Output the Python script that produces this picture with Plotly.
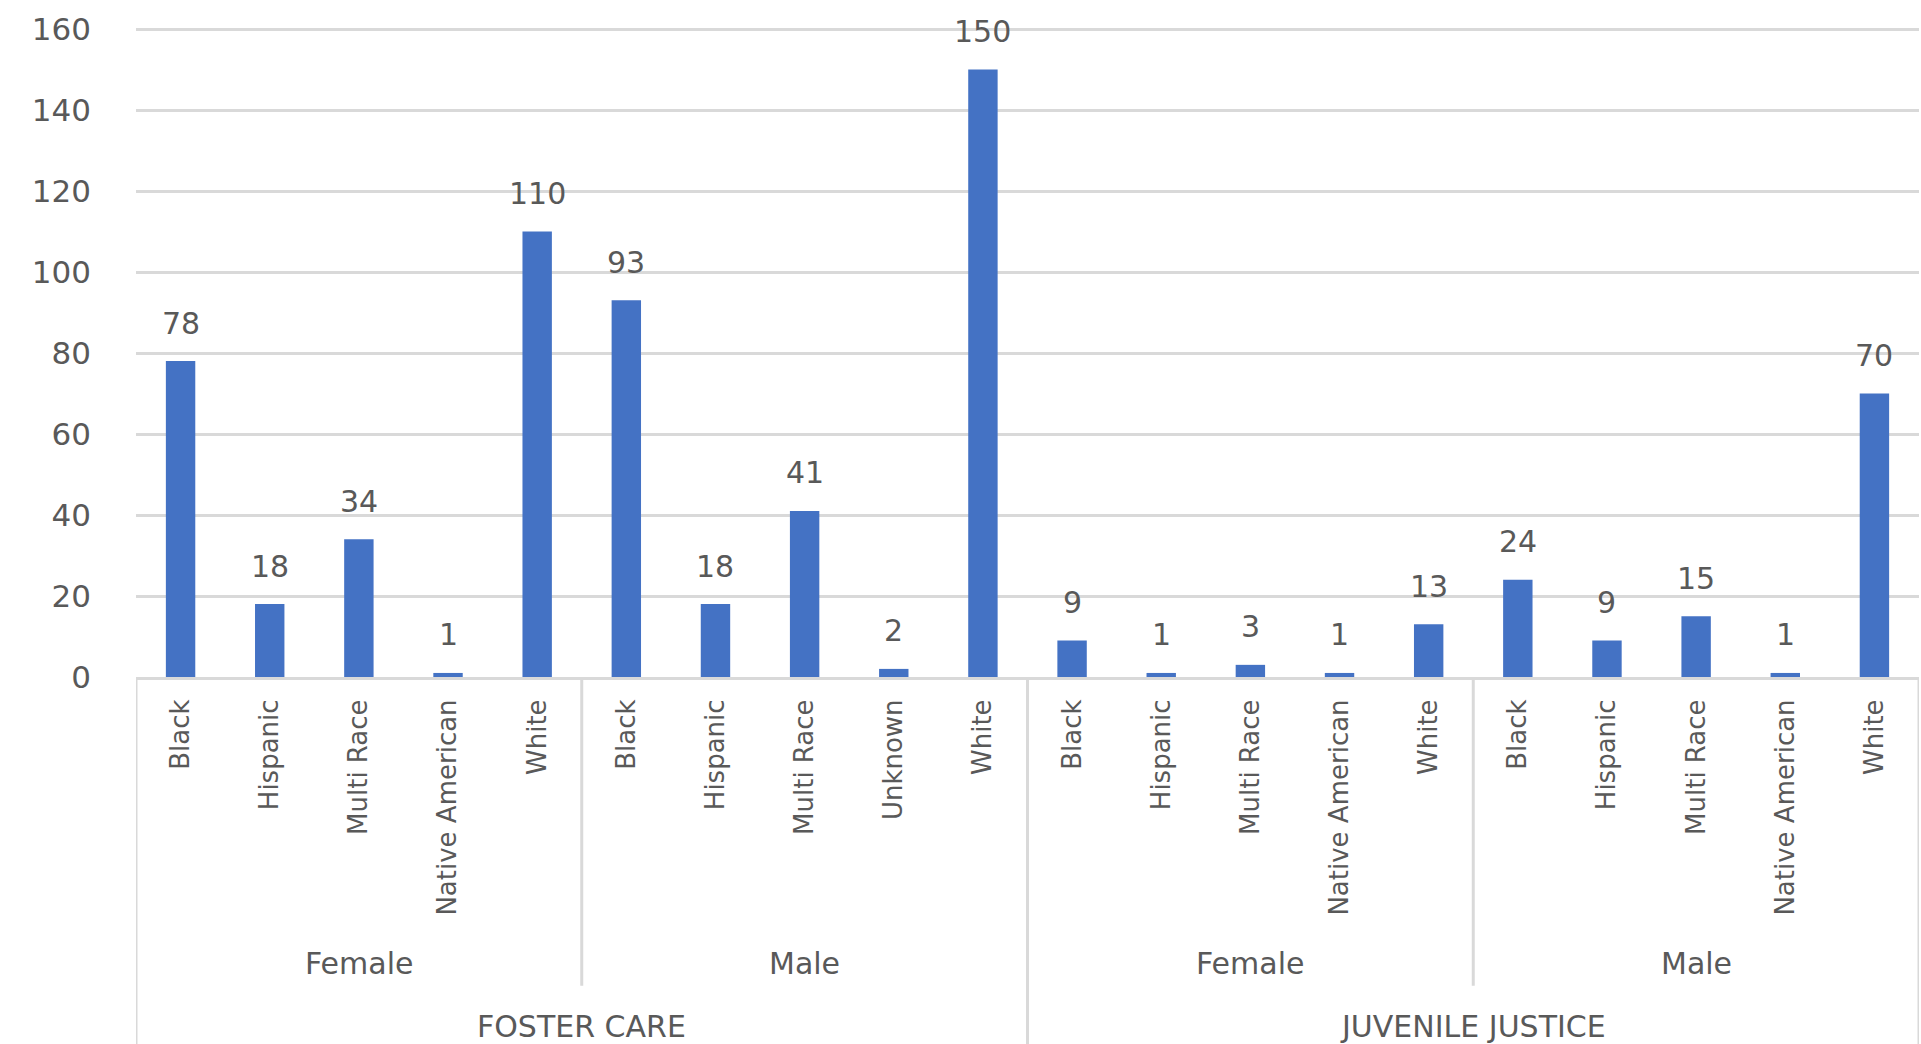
import plotly.graph_objects as go

# ---- data ----
programs = ["FOSTER CARE", "JUVENILE JUSTICE"]
genders = ["Female", "Male"]

fc_female_races = ["Black", "Hispanic", "Multi Race", "Native American", "White"]
fc_female_values = [78, 18, 34, 1, 110]
fc_male_races = ["Black", "Hispanic", "Multi Race", "Unknown", "White"]
fc_male_values = [93, 18, 41, 2, 150]
jj_female_races = ["Black", "Hispanic", "Multi Race", "Native American", "White"]
jj_female_values = [9, 1, 3, 1, 13]
jj_male_races = ["Black", "Hispanic", "Multi Race", "Native American", "White"]
jj_male_values = [24, 9, 15, 1, 70]

y_ticks = [0, 20, 40, 60, 80, 100, 120, 140, 160]

groups = [
    (programs[0], genders[0], fc_female_races, fc_female_values),
    (programs[0], genders[1], fc_male_races, fc_male_values),
    (programs[1], genders[0], jj_female_races, jj_female_values),
    (programs[1], genders[1], jj_male_races, jj_male_values),
]

races, values, prog_of, gender_of = [], [], [], []
for p, g, r, v in groups:
    races += r
    values += v
    prog_of += [p] * len(r)
    gender_of += [g] * len(r)
xs = list(range(len(values)))

BLUE = "#4472C4"
GRID = "#D9D9D9"
TXT = "#595959"
FONT = "DejaVu Sans"

fig = go.Figure()
fig.add_trace(go.Bar(x=xs, y=values, marker=dict(color=BLUE, line=dict(width=0)),
                     hoverinfo="skip", cliponaxis=False))

annotations = []
for x, v in zip(xs, values):
    annotations.append(dict(x=x, y=v, xref="x", yref="y", text=str(v), showarrow=False,
                            yanchor="middle", yshift=38,
                            font=dict(family=FONT, size=30, color=TXT)))

shapes = []
start = 0
gender_bounds = []
for p, g, r, v in groups:
    end = start + len(r) - 1
    annotations.append(dict(x=(start + end) / 2, y=-0.4415, xref="x", yref="paper", text=g,
                            showarrow=False, yanchor="middle",
                            font=dict(family=FONT, size=30, color=TXT)))
    gender_bounds.append((start, end))
    start = end + 1

prog_bounds = {}
for x, p in zip(xs, prog_of):
    lo, hi = prog_bounds.get(p, (x, x))
    prog_bounds[p] = (min(lo, x), max(hi, x))
for p, (lo, hi) in prog_bounds.items():
    annotations.append(dict(x=(lo + hi) / 2, y=-0.538, xref="x", yref="paper", text=p,
                            showarrow=False, yanchor="middle",
                            font=dict(family=FONT, size=30, color=TXT)))

prog_edges = sorted({lo - 0.5 for lo, hi in prog_bounds.values()} | {hi + 0.5 for lo, hi in prog_bounds.values()})
gender_edges = sorted({hi + 0.5 for lo, hi in gender_bounds} - set(prog_edges))
for e in prog_edges:
    shapes.append(dict(type="line", xref="x", yref="paper", x0=e, x1=e, y0=0, y1=-0.6,
                       line=dict(color=GRID, width=3)))
for e in gender_edges:
    shapes.append(dict(type="line", xref="x", yref="paper", x0=e, x1=e, y0=0, y1=-0.475,
                       line=dict(color=GRID, width=3)))

fig.update_layout(
    width=1921, height=1044,
    margin=dict(l=136, r=2, t=27, b=367),
    paper_bgcolor="white", plot_bgcolor="white",
    bargap=0.67,
    showlegend=False,
    annotations=annotations,
    shapes=shapes,
    font=dict(family=FONT, color=TXT),
)
fig.update_xaxes(
    tickmode="array", tickvals=xs, ticktext=races, tickangle=-90,
    range=[-0.5, len(xs) - 0.5],
    showgrid=False, zeroline=False, showline=True, linecolor=GRID, linewidth=3,
    ticks="", ticklabelstandoff=9,
    tickfont=dict(family=FONT, size=26, color=TXT),
)
fig.update_yaxes(
    range=[0, 160.5], tickvals=y_ticks, showgrid=True, gridcolor=GRID, gridwidth=3,
    zeroline=False, showline=False, ticks="", ticklabelstandoff=44,
    tickfont=dict(family=FONT, size=31, color=TXT),
)

fig.write_html("out.html")
